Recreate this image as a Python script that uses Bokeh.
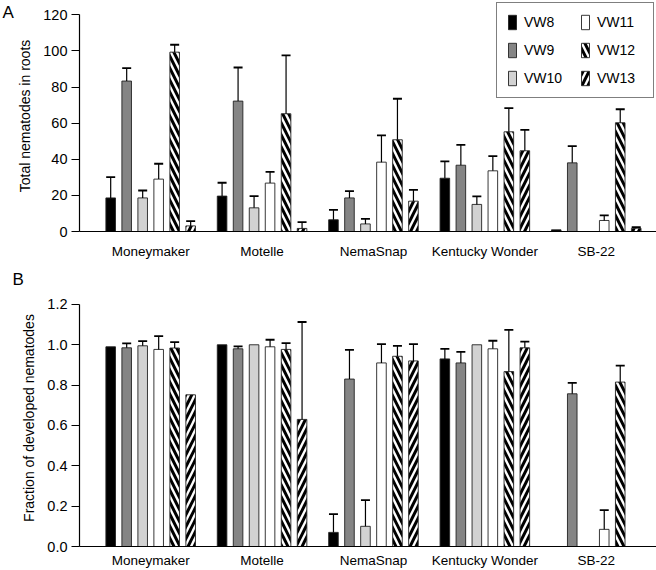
import math
from bokeh.plotting import figure
from bokeh.models import (ColumnDataSource, Range1d, FixedTicker, Legend, LegendItem,
                          Whisker, TeeHead, Title)
from bokeh.layouts import column
from bokeh.embed import file_html
from bokeh.resources import INLINE

nan = float("nan")

cultivars = ["Moneymaker", "Motelle", "NemaSnap", "Kentucky Wonder", "SB-22"]
series = ["VW8", "VW9", "VW10", "VW11", "VW12", "VW13"]

# Panel A: total nematodes in roots (mean, upper error)
a_vw8 = [18.6, 19.6, 6.5, 29.5, 0.9]
a_vw9 = [83.3, 72.2, 18.6, 36.7, 38.0]
a_vw10 = [18.6, 13.1, 4.2, 15.0, nan]
a_vw11 = [29.0, 26.8, 38.4, 33.6, 6.1]
a_vw12 = [99.3, 65.2, 50.8, 55.2, 60.2]
a_vw13 = [3.1, 1.7, 16.8, 44.7, 1.8]
a_err_vw8 = [11.5, 7.4, 5.5, 9.3, nan]
a_err_vw9 = [7.2, 18.6, 3.7, 11.3, 9.3]
a_err_vw10 = [4.1, 6.5, 2.8, 4.4, nan]
a_err_vw11 = [8.5, 6.2, 14.8, 8.1, 2.8]
a_err_vw12 = [4.1, 32.3, 22.7, 13.1, 7.5]
a_err_vw13 = [2.6, 3.5, 6.3, 11.6, 0.6]

# Panel B: fraction of developed nematodes
b_vw8 = [0.99, 1.0, 0.07, 0.93, nan]
b_vw9 = [0.985, 0.98, 0.83, 0.91, 0.757]
b_vw10 = [0.995, 1.0, 0.10, 1.0, nan]
b_vw11 = [0.977, 0.99, 0.91, 0.98, 0.085]
b_vw12 = [0.984, 0.977, 0.943, 0.867, 0.815]
b_vw13 = [0.752, 0.63, 0.92, 0.985, nan]
b_err_vw8 = [nan, nan, 0.09, 0.05, nan]
b_err_vw9 = [0.022, 0.012, 0.145, 0.055, 0.054]
b_err_vw10 = [0.023, nan, 0.13, nan, nan]
b_err_vw11 = [0.066, 0.035, 0.093, 0.04, 0.095]
b_err_vw12 = [0.029, 0.031, 0.052, 0.207, 0.082]
b_err_vw13 = [nan, 0.483, 0.083, 0.031, nan]

a_ticks = [0, 20, 40, 60, 80, 100, 120]
b_ticks = [0.0, 0.2, 0.4, 0.6, 0.8, 1.0, 1.2]

a_vals = [a_vw8, a_vw9, a_vw10, a_vw11, a_vw12, a_vw13]
a_errs = [a_err_vw8, a_err_vw9, a_err_vw10, a_err_vw11, a_err_vw12, a_err_vw13]
b_vals = [b_vw8, b_vw9, b_vw10, b_vw11, b_vw12, b_vw13]
b_errs = [b_err_vw8, b_err_vw9, b_err_vw10, b_err_vw11, b_err_vw12, b_err_vw13]

styles = [
    dict(fill_color="black"),
    dict(fill_color="#858585"),
    dict(fill_color="#d2d2d2"),
    dict(fill_color="white"),
    dict(fill_color="white", hatch_pattern="left_diagonal_line", hatch_color="black",
         hatch_weight=3.0, hatch_scale=12),
    dict(fill_color="white", hatch_pattern="right_diagonal_line", hatch_color="black",
         hatch_weight=3.0, hatch_scale=12),
]

FONT = "Liberation Sans"
STEP = 0.1436
BAR_W = 0.086
X0, X1 = -0.639, 4.541
LEFT = 79
W = 656


def style_axes(p, ticks, fmt, ylabel, label_standoff):
    p.outline_line_color = None
    p.xgrid.visible = False
    p.ygrid.visible = False
    p.xaxis.ticker = FixedTicker(ticks=list(range(len(cultivars))))
    p.xaxis.major_label_overrides = {i: c for i, c in enumerate(cultivars)}
    p.xaxis.major_tick_out = 0
    p.xaxis.major_tick_in = 0
    p.xaxis.minor_tick_out = 0
    p.xaxis.minor_tick_in = 0
    p.xaxis.axis_line_color = "black"
    p.xaxis.axis_line_width = 1.2
    p.xaxis.major_label_text_font = FONT
    p.xaxis.major_label_text_font_size = "13.5px"
    p.xaxis.major_label_text_color = "black"
    p.xaxis.major_label_standoff = label_standoff

    p.yaxis.ticker = FixedTicker(ticks=ticks)
    p.yaxis.bounds = (ticks[0], ticks[-1])
    if fmt:
        p.yaxis.major_label_overrides = {t: fmt.format(t) for t in ticks}
    p.yaxis.major_tick_out = 8
    p.yaxis.major_tick_in = 0
    p.yaxis.minor_tick_out = 0
    p.yaxis.minor_tick_in = 0
    p.yaxis.axis_line_color = "black"
    p.yaxis.axis_line_width = 1.2
    p.yaxis.major_tick_line_width = 1.2
    p.yaxis.major_label_text_font = FONT
    p.yaxis.major_label_text_font_size = "14.5px"
    p.yaxis.major_label_text_color = "black"
    p.yaxis.major_label_standoff = 4
    p.yaxis.axis_label = ylabel
    p.yaxis.axis_label_text_font = FONT
    p.yaxis.axis_label_text_font_size = "14px"
    p.yaxis.axis_label_text_font_style = "normal"
    p.yaxis.axis_label_text_color = "black"
    p.yaxis.axis_label_standoff = 7


def draw_bars(p, vals, errs):
    renderers = []
    for j, (v, e, st) in enumerate(zip(vals, errs, styles)):
        xs = [i + (j - 2.5) * STEP for i in range(len(cultivars))]
        tops = [0 if math.isnan(t) else t for t in v]
        src = ColumnDataSource(dict(x=xs, top=tops))
        r = p.vbar(x="x", top="top", width=BAR_W, source=src, line_color="#222222",
                   line_width=0.9, **st)
        renderers.append(r)
        ex, el, eu = [], [], []
        for x, t, ee in zip(xs, v, e):
            if not math.isnan(ee) and not math.isnan(t):
                ex.append(x); el.append(t); eu.append(t + ee)
        esrc = ColumnDataSource(dict(x=ex, lower=el, upper=eu))
        w = Whisker(base="x", lower="lower", upper="upper", source=esrc, dimension="height",
                    line_color="black", line_width=1.2,
                    upper_head=TeeHead(size=9, line_color="black", line_width=1.8),
                    lower_head=None, level="glyph")
        p.add_layout(w)
    return renderers


# ---- Panel A
pa = figure(width=W, height=266, output_backend="svg", toolbar_location=None,
            x_range=Range1d(X0, X1), y_range=Range1d(0, 127.9),
            min_border_left=LEFT, min_border_right=0, min_border_top=0,
            min_border_bottom=35)
rends = draw_bars(pa, a_vals, a_errs)
style_axes(pa, a_ticks, None, "Total nematodes in roots", 12)
pa.add_layout(Title(text="A", align="left", offset=-77, text_font=FONT,
                    text_font_size="17px", text_font_style="normal", standoff=-42,
                    text_color="black"), "above")

legend = Legend(items=[LegendItem(label=s, renderers=[r]) for s, r in zip(series, rends)],
                location="top_right", nrows=3, orientation="vertical")
legend.label_text_font = FONT
legend.label_text_font_size = "14px"
legend.label_text_color = "black"
legend.glyph_width = 10
legend.glyph_height = 18
legend.label_height = 18
legend.label_width = 46
legend.label_standoff = 7
legend.spacing = 10
legend.padding = 10
legend.margin = 2
legend.border_line_color = "black"
legend.border_line_width = 1.2
legend.background_fill_color = "white"
legend.background_fill_alpha = 1.0
pa.add_layout(legend)

# ---- Panel B
pb = figure(width=W, height=304, output_backend="svg", toolbar_location=None,
            x_range=Range1d(X0, X1), y_range=Range1d(0, 1.274),
            min_border_left=LEFT, min_border_right=0, min_border_top=0,
            min_border_bottom=23)
draw_bars(pb, b_vals, b_errs)
style_axes(pb, b_ticks, "{:.1f}", "Fraction of developed nematodes", 6)
pb.add_layout(Title(text="B", align="left", offset=-67, text_font=FONT,
                    text_font_size="17px", text_font_style="normal", standoff=2,
                    text_color="black"), "above")

layout = column(pa, pb)
open("out.html", "w").write(file_html(layout, INLINE))
